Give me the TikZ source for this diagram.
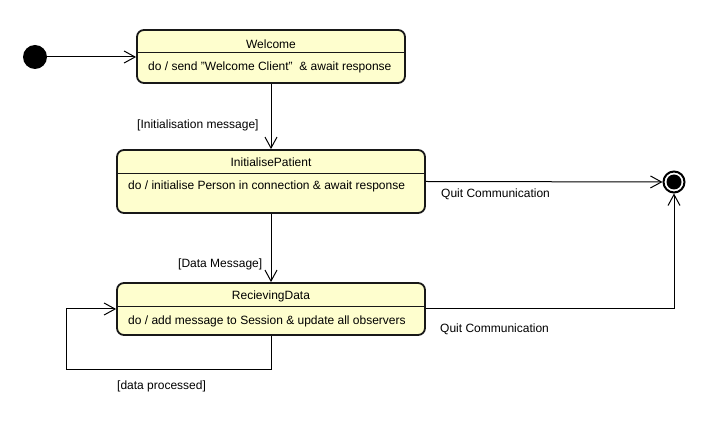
\documentclass[tikz,border=0pt]{standalone}
\usepackage{fontspec}
\setmainfont{Liberation Sans}
\usetikzlibrary{arrows.meta}
\definecolor{statefill}{HTML}{FEFECE}
\definecolor{stateline}{HTML}{181818}
\tikzset{
  statebox/.style={draw=stateline, fill=statefill, line width=1.8pt, rounded corners=7pt, inner sep=0pt},
  divider/.style={draw=stateline, line width=1pt},
  txt/.style={inner sep=0pt, font=\fontsize{12}{14}\selectfont, text height=8.4pt, text depth=2.4pt},
  arr/.style={draw=black, line width=1pt, -{Straight Barb[length=11pt,width=12pt,line width=1pt]}},
}
\begin{document}
\begin{tikzpicture}[x=1pt,y=-1pt]
\useasboundingbox (0,0) rectangle (710,435);
% initial
\node[circle, fill=black, minimum size=24pt, inner sep=0pt] (init) at (35,57) {};
% Welcome
\node[statebox, minimum width=268pt, minimum height=53pt] (w) at (271,56.5) {};
\draw[divider] (w.west |- 0,53) -- (w.east |- 0,53);
\node[txt] (wt) at (271,45.5) {Welcome};
\node[txt, anchor=west] (wb) at (148,67.5) {do / send "Welcome Client"\ \ \& await response};
% InitialisePatient
\node[statebox, minimum width=308pt, minimum height=63pt] (ip) at (271,181.5) {};
\draw[divider] (ip.west |- 0,174) -- (ip.east |- 0,174);
\node[txt] (ipt) at (271,163.5) {InitialisePatient};
\node[txt, anchor=west] (ipb) at (128,186.5) {do / initialise Person in connection \& await response};
% RecievingData
\node[statebox, minimum width=308pt, minimum height=52pt] (rd) at (271,309) {};
\draw[divider] (rd.west |- 0,307) -- (rd.east |- 0,307);
\node[txt] (rdt) at (271,296.5) {RecievingData};
\node[txt, anchor=west] (rdb) at (128,321.5) {do / add message to Session \& update all observers};
% final
\node[circle, draw=black, fill=white, line width=2pt, minimum size=21pt, inner sep=0pt] (fin) at (674,182) {};
\node[circle, fill=black, minimum size=15pt, inner sep=0pt] (fininner) at (674,182) {};
% connectors
\draw[arr] (init) -- (init -| w.west);
\draw[arr] (w.south) -- (ip.north);
\node[txt, anchor=west] (l1) at (137,125.5) {[Initialisation message]};
\draw[arr] (ip.east) -- (fin);
\node[txt, anchor=west] (l2) at (441,194.5) {Quit Communication};
\draw[arr] (ip.south) -- (rd.north);
\node[txt, anchor=west] (l3) at (178,264.5) {[Data Message]};
\coordinate (lp) at (66,370);
\draw[arr] (rd.south) |- (lp) |- (rd.west);
\node[txt, anchor=west] (l4) at (117,386.5) {[data processed]};
\draw[arr] (rd.east) -| (fin.south);
\node[txt, anchor=west] (l5) at (440,329.5) {Quit Communication};
\end{tikzpicture}
\end{document}
